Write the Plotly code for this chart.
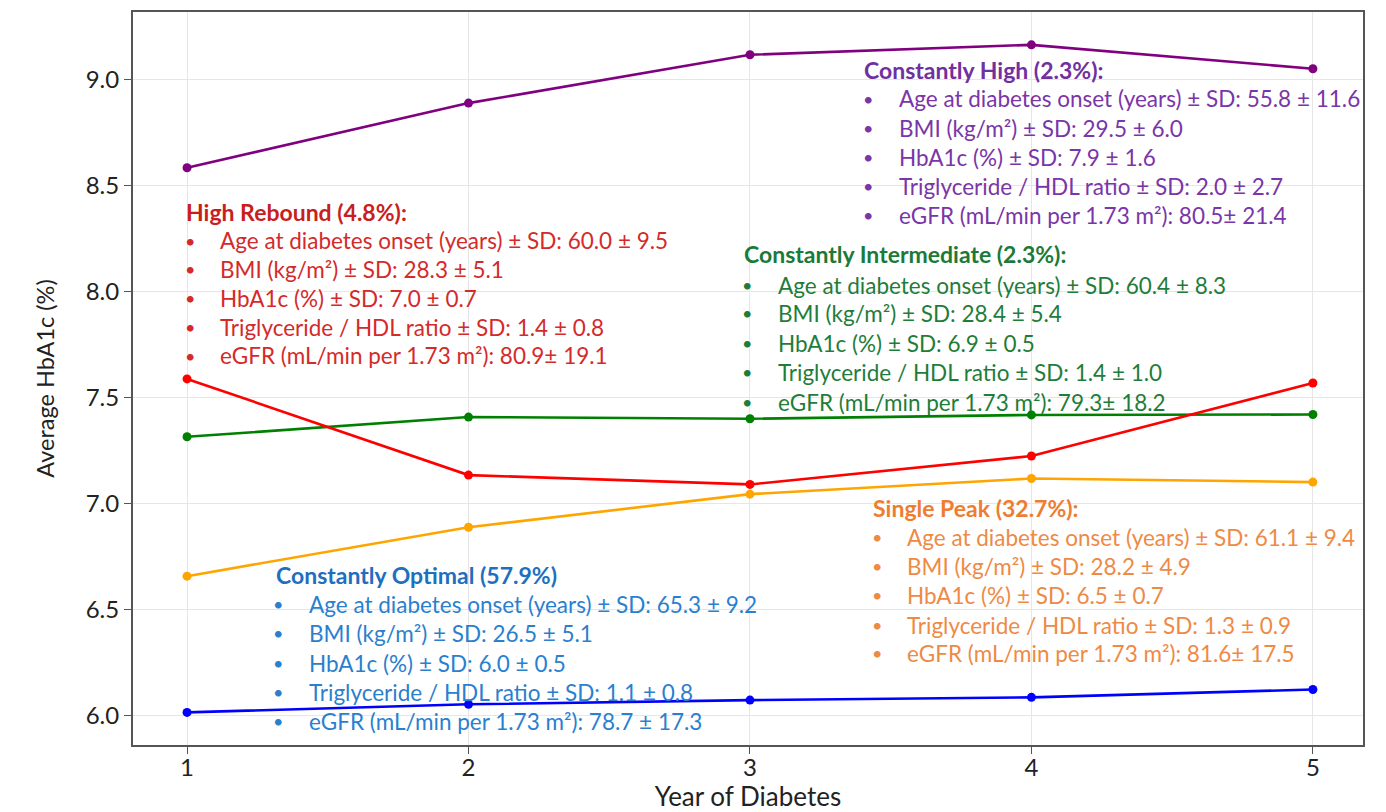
import plotly.graph_objects as go

# Year of diabetes and average HbA1c per trajectory group
years = [1, 2, 3, 4, 5]
constantly_high = [8.585, 8.89, 9.118, 9.165, 9.052]
constantly_intermediate = [7.315, 7.408, 7.400, 7.418, 7.420]
high_rebound = [7.588, 7.134, 7.090, 7.224, 7.569]
single_peak = [6.657, 6.888, 7.044, 7.118, 7.101]
constantly_optimal = [6.014, 6.052, 6.072, 6.085, 6.122]

series_names = ["Constantly High", "Constantly Intermediate", "High Rebound",
                "Single Peak", "Constantly Optimal"]
series_values = [constantly_high, constantly_intermediate, high_rebound,
                 single_peak, constantly_optimal]
line_colors = ["purple", "green", "red", "orange", "blue"]

# Group descriptions
high_title = "Constantly High (2.3%):"
high_lines = ["Age at diabetes onset (years) ± SD: 55.8 ± 11.6",
              "BMI (kg/m²) ± SD: 29.5 ± 6.0",
              "HbA1c (%) ± SD: 7.9 ± 1.6",
              "Triglyceride / HDL ratio ± SD: 2.0 ± 2.7",
              "eGFR (mL/min per 1.73 m²): 80.5± 21.4"]
rebound_title = "High Rebound (4.8%):"
rebound_lines = ["Age at diabetes onset (years) ± SD: 60.0 ± 9.5",
                 "BMI (kg/m²) ± SD: 28.3 ± 5.1",
                 "HbA1c (%) ± SD: 7.0 ± 0.7",
                 "Triglyceride / HDL ratio ± SD: 1.4 ± 0.8",
                 "eGFR (mL/min per 1.73 m²): 80.9± 19.1"]
inter_title = "Constantly Intermediate (2.3%):"
inter_lines = ["Age at diabetes onset (years) ± SD: 60.4 ± 8.3",
               "BMI (kg/m²) ± SD: 28.4 ± 5.4",
               "HbA1c (%) ± SD: 6.9 ± 0.5",
               "Triglyceride / HDL ratio ± SD: 1.4 ± 1.0",
               "eGFR (mL/min per 1.73 m²): 79.3± 18.2"]
peak_title = "Single Peak (32.7%):"
peak_lines = ["Age at diabetes onset (years) ± SD: 61.1 ± 9.4",
              "BMI (kg/m²) ± SD: 28.2 ± 4.9",
              "HbA1c (%) ± SD: 6.5 ± 0.7",
              "Triglyceride / HDL ratio ± SD: 1.3 ± 0.9",
              "eGFR (mL/min per 1.73 m²): 81.6± 17.5"]
optimal_title = "Constantly Optimal (57.9%)"
optimal_lines = ["Age at diabetes onset (years) ± SD: 65.3 ± 9.2",
                 "BMI (kg/m²) ± SD: 26.5 ± 5.1",
                 "HbA1c (%) ± SD: 6.0 ± 0.5",
                 "Triglyceride / HDL ratio ± SD: 1.1 ± 0.8",
                 "eGFR (mL/min per 1.73 m²): 78.7 ± 17.3"]

W, H = 1386, 812
ML, MR, MT, MB = 133, 23, 12, 67
PW, PH = W - ML - MR, H - MT - MB
FONT = "Lato"
TEXT_SIZE = 22.5
TITLE_SIZE = 23

fig = go.Figure()
for name, vals, col in zip(series_names, series_values, line_colors):
    fig.add_trace(go.Scatter(x=years, y=vals, mode="lines+markers", name=name,
                             line=dict(color=col, width=2.6),
                             marker=dict(color=col, size=9)))


def px_x(px):
    return (px - ML) / PW


def px_y(py):
    return (H - MB - py) / PH


annotations = []


def add_block(title, lines, title_color, text_color, title_x, bullet_x, text_x,
              title_y, line_ys):
    annotations.append(dict(text="<b>" + title + "</b>", x=px_x(title_x), y=px_y(title_y),
                            xref="paper", yref="paper", xanchor="left", yanchor="middle",
                            showarrow=False,
                            font=dict(family=FONT, size=TITLE_SIZE, color=title_color)))
    for line, ly in zip(lines, line_ys):
        annotations.append(dict(text="•", x=px_x(bullet_x), y=px_y(ly),
                                xref="paper", yref="paper", xanchor="center", yanchor="middle",
                                showarrow=False,
                                font=dict(family=FONT, size=18, color=text_color)))
        annotations.append(dict(text=line, x=px_x(text_x), y=px_y(ly),
                                xref="paper", yref="paper", xanchor="left", yanchor="middle",
                                showarrow=False,
                                font=dict(family=FONT, size=TEXT_SIZE, color=text_color)))


add_block(high_title, high_lines, "#7030a0", "#7a35a8", 862, 868, 897,
          70, [99, 128, 157, 186, 215])
add_block(rebound_title, rebound_lines, "#c81e1e", "#d42a2a", 184, 190, 218,
          212, [241, 269, 298, 327, 356])
add_block(inter_title, inter_lines, "#1b7a38", "#1f7d3a", 742, 747, 776,
          254, [285, 313, 343, 372, 402])
add_block(peak_title, peak_lines, "#ed7d31", "#ee8a45", 871, 877, 905,
          508, [537, 566, 595, 625, 653])
add_block(optimal_title, optimal_lines, "#1f6fbf", "#2a7fcf", 274, 278, 307,
          575, [604, 633, 663, 692, 721])

fig.update_layout(
    width=W, height=H,
    margin=dict(l=ML, r=MR, t=MT, b=MB, autoexpand=False),
    paper_bgcolor="white", plot_bgcolor="white",
    showlegend=False,
    annotations=annotations,
    font=dict(family=FONT, color="#222"),
    xaxis=dict(range=[0.808, 5.178], tickvals=years, ticktext=[str(v) for v in years],
               showgrid=True, gridcolor="#e6e6e6", gridwidth=1,
               showline=True, linecolor="#555", linewidth=2, mirror=True,
               ticks="outside", ticklen=7, tickcolor="#555",
               ticklabelstandoff=-7,
               tickfont=dict(size=24, family=FONT, color="#222"),
               title=dict(text="Year of Diabetes", standoff=2,
                          font=dict(size=26, family=FONT, color="#222")),
               automargin=False, zeroline=False),
    yaxis=dict(range=[5.86, 9.32], tickvals=[6.0, 6.5, 7.0, 7.5, 8.0, 8.5, 9.0],
               ticktext=["6.0", "6.5", "7.0", "7.5", "8.0", "8.5", "9.0"],
               showgrid=True, gridcolor="#e6e6e6", gridwidth=1,
               showline=True, linecolor="#555", linewidth=2, mirror=True,
               ticks="outside", ticklen=7, tickcolor="#555",
               tickfont=dict(size=24, family=FONT, color="#222"),
               title=dict(text="Average HbA1c (%)", standoff=24,
                          font=dict(size=23.5, family=FONT, color="#222")),
               automargin=False, zeroline=False),
)

fig.write_html("out.html")
